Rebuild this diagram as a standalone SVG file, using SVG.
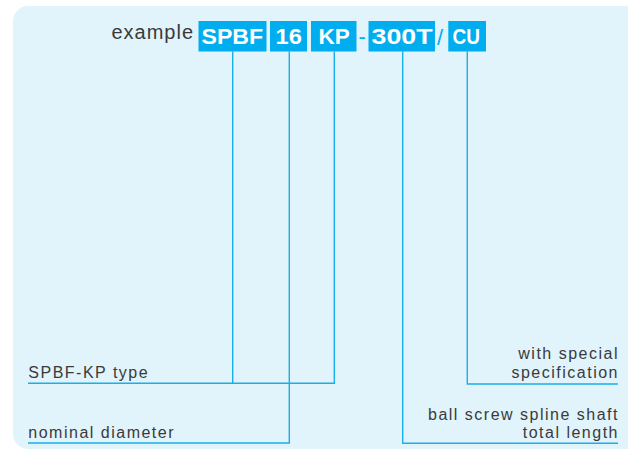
<svg xmlns="http://www.w3.org/2000/svg" width="628" height="453" viewBox="0 0 628 453">
<style>
.bg{fill:#e1f3fb}
.box{fill:#00aeef}
.bt{font-family:"Liberation Sans",Arial,sans-serif;font-weight:bold;font-size:22px;fill:#ffffff}
.sep{font-family:"Liberation Sans",Arial,sans-serif;font-size:22px;fill:#00aeef}
.lbl{font-family:"Liberation Sans",Arial,sans-serif;font-size:16px;fill:#3a3a3a;letter-spacing:1.5px}
.ex{font-family:"Liberation Sans",Arial,sans-serif;font-size:20px;fill:#3a3a3a}
.ln{fill:none;stroke:#18b0ec;stroke-width:1.4}
</style>
<rect class="bg" x="13" y="6" width="640" height="443" rx="15"/>
<g id="code">
<text class="ex" x="111.5" y="38.5" textLength="81.5">example</text>
<g id="n-spbf"><rect class="box" x="198.5" y="21" width="68" height="30.5"/><text class="bt" x="201.5" y="43.5" textLength="61.5" lengthAdjust="spacingAndGlyphs">SPBF</text></g>
<g id="n-16"><rect class="box" x="270" y="21" width="37" height="30.5"/><text class="bt" x="275.5" y="43.5" textLength="26.3" lengthAdjust="spacingAndGlyphs">16</text></g>
<g id="n-kp"><rect class="box" x="311" y="21" width="45.5" height="30.5"/><text class="bt" x="318.5" y="43.5" textLength="31.3" lengthAdjust="spacingAndGlyphs">KP</text></g>
<text class="sep" x="358.5" y="43.5">-</text>
<g id="n-300t"><rect class="box" x="368.5" y="21" width="66.5" height="30.5"/><text class="bt" x="371.5" y="43.5" textLength="61" lengthAdjust="spacingAndGlyphs">300T</text></g>
<text class="sep" x="437" y="45">/</text>
<g id="n-cu"><rect class="box" x="448.3" y="21" width="37.7" height="30.5"/><text class="bt" x="452.5" y="43.5" textLength="27.5" lengthAdjust="spacingAndGlyphs">CU</text></g>
</g>
<g id="connectors">
<polyline class="ln" points="232.7,51.5 232.7,383.3"/>
<polyline class="ln" points="334.3,51.5 334.3,383.3 28,383.3"/>
<polyline class="ln" points="289.3,51.5 289.3,443 28,443"/>
<polyline class="ln" points="402.7,51.5 402.7,443.3 618,443.3"/>
<polyline class="ln" points="467.3,51.5 467.3,384 618,384"/>
</g>
<g id="n-type"><text class="lbl" x="28.3" y="378.3">SPBF-KP type</text></g>
<g id="n-diam"><text class="lbl" x="28.3" y="438.3">nominal diameter</text></g>
<g id="n-spec"><text class="lbl" text-anchor="end" x="619" y="359.3">with special</text><text class="lbl" text-anchor="end" x="619" y="378.3">specification</text></g>
<g id="n-len"><text class="lbl" text-anchor="end" x="619" y="420">ball screw spline shaft</text><text class="lbl" text-anchor="end" x="619" y="438.3">total length</text></g>
</svg>
